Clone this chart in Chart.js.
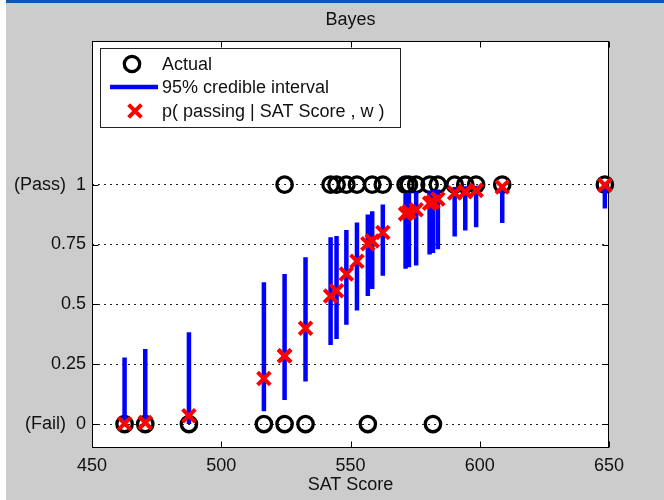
<!DOCTYPE html>
<html>
<head>
<meta charset="utf-8">
<script src="https://cdn.jsdelivr.net/npm/chart.js@4/dist/chart.umd.min.js"></script>
<style>
  body { margin: 0; background: #fff; }
  #frame { position: absolute; left: 6px; top: 0; width: 658px; height: 500px; background: #cccccc; border-top: 3px solid #0a57b6; box-sizing: border-box; }
  canvas { position: absolute; left: 0; top: 0; }
</style>
</head>
<body>
<div id="frame"></div>
<canvas id="chart" width="664" height="500"></canvas>
<script>
// one entry per student, sorted by SAT score
const scores  = [462.6, 470.6, 487.5, 516.5, 524.5, 524.5, 532.6, 542.3, 544.6, 548.4, 552.5, 556.7, 558.4,
                 562.5, 571.3, 572.6, 575.4, 580.6, 581.9, 583.8, 590.3, 594.4, 598.6, 608.7, 648.4];
const actual  = [0, 0, 0, 0, 0, 1, 0, 1, 1, 1, 1, 0, 1,
                 1, 1, 1, 1, 1, 0, 1, 1, 1, 1, 1, 1];
const pPass   = [0.002, 0.006, 0.035, 0.19, 0.285, 0.285, 0.40, 0.535, 0.557, 0.627, 0.68, 0.753, 0.765,
                 0.80, 0.878, 0.887, 0.895, 0.922, 0.928, 0.94, 0.965, 0.97, 0.976, 0.99, 0.998];
const ciLow   = [0.0, 0.0, 0.0, 0.053, 0.10, 0.10, 0.178, 0.33, 0.355, 0.415, 0.474, 0.535, 0.564,
                 0.619, 0.649, 0.655, 0.662, 0.708, 0.714, 0.73, 0.783, 0.808, 0.822, 0.84, 0.90];
const ciHigh  = [0.278, 0.313, 0.383, 0.592, 0.627, 0.627, 0.697, 0.78, 0.786, 0.811, 0.842, 0.875, 0.889,
                 0.917, 0.963, 0.967, 0.97, 0.975, 0.978, 0.98, 0.99, 0.993, 0.995, 0.999, 1.0];

const xTicks = [450, 500, 550, 600, 650];
const yTicks = [0, 0.25, 0.5, 0.75, 1];
const yTickLabels = ['(Fail)  0', '0.25', '0.5', '0.75', '(Pass)  1'];
const legendLabels = ['Actual', '95% credible interval', 'p( passing | SAT Score , w )'];

const FONT = { family: "'Liberation Sans', Arial, sans-serif", size: 18 };
const TEXT = '#111';

// interval segments, broken apart with null points
const ciPoints = [];
scores.forEach((s, i) => {
  ciPoints.push({ x: s, y: ciLow[i] }, { x: s, y: ciHigh[i] }, { x: s, y: null });
});

const circleStyle = { pointStyle: 'circle', radius: 7.7, borderWidth: 3.3, rotation: 0 };
const crossStyle = { pointStyle: 'crossRot', radius: 9, borderWidth: 4, rotation: 0 };

// white plot box, MATLAB-like frame and inward ticks, legend inside the axes
const axesBox = {
  id: 'axesBox',
  beforeDraw(chart) {
    const a = chart.chartArea, ctx = chart.ctx;
    ctx.save();
    ctx.fillStyle = '#fff';
    ctx.fillRect(a.left, a.top, a.right - a.left, a.bottom - a.top);
    ctx.restore();
  },
  beforeDatasetsDraw(chart) {
    const a = chart.chartArea, ctx = chart.ctx;
    const x = chart.scales.x, y = chart.scales.y;
    const L = Math.round(a.left) + 0.5, R = Math.round(a.right) - 0.5;
    const T = Math.round(a.top) + 0.5, B = Math.round(a.bottom) - 0.5;
    ctx.save();
    ctx.strokeStyle = '#000';
    ctx.lineWidth = 1;
    ctx.strokeRect(L, T, R - L, B - T);
    ctx.beginPath();
    xTicks.forEach(v => {
      const px = Math.round(x.getPixelForValue(v)) + 0.5;
      ctx.moveTo(px, B); ctx.lineTo(px, B - 6);
      ctx.moveTo(px, T); ctx.lineTo(px, T + 6);
    });
    yTicks.forEach(v => {
      const py = Math.round(y.getPixelForValue(v)) + 0.5;
      ctx.moveTo(L, py); ctx.lineTo(L + 6, py);
      ctx.moveTo(R, py); ctx.lineTo(R - 6, py);
    });
    ctx.stroke();
    ctx.restore();
  },
  afterDraw(chart) {
    const a = chart.chartArea, ctx = chart.ctx;
    const left = Math.round(a.left) + 8, top = Math.round(a.top) + 7;
    ctx.save();
    ctx.fillStyle = '#fff';
    ctx.strokeStyle = '#222';
    ctx.lineWidth = 1;
    ctx.fillRect(left, top, 300, 79);
    ctx.strokeRect(left + 0.5, top + 0.5, 300, 79);

    const rows = [top + 16, top + 39, top + 63];
    ctx.strokeStyle = '#000';
    ctx.lineWidth = circleStyle.borderWidth;
    Chart.helpers.drawPoint(ctx, circleStyle, left + 32, rows[0]);
    ctx.beginPath();
    ctx.strokeStyle = '#0000ff';
    ctx.lineWidth = 4.5;
    ctx.moveTo(left + 10, rows[1]);
    ctx.lineTo(left + 58, rows[1]);
    ctx.stroke();
    ctx.strokeStyle = '#ff0000';
    ctx.lineWidth = crossStyle.borderWidth;
    Chart.helpers.drawPoint(ctx, crossStyle, left + 35, rows[2]);

    ctx.fillStyle = TEXT;
    ctx.font = FONT.size + 'px ' + FONT.family;
    ctx.textBaseline = 'middle';
    ctx.textAlign = 'left';
    legendLabels.forEach((t, i) => ctx.fillText(t, left + 62, rows[i] + 1));
    ctx.restore();
  }
};

new Chart(document.getElementById('chart'), {
  type: 'scatter',
  data: {
    datasets: [
      {
        label: legendLabels[2],
        data: scores.map((s, i) => ({ x: s, y: pPass[i] })),
        pointStyle: 'crossRot',
        pointRadius: crossStyle.radius,
        pointBorderWidth: crossStyle.borderWidth,
        pointBorderColor: '#ff0000',
        pointBackgroundColor: '#ff0000',
        clip: false,
        order: 1
      },
      {
        label: legendLabels[1],
        data: ciPoints,
        showLine: true,
        spanGaps: false,
        pointRadius: 0,
        borderColor: '#0000ff',
        borderWidth: 4.5,
        borderCapStyle: 'butt',
        order: 2
      },
      {
        label: legendLabels[0],
        data: scores.map((s, i) => ({ x: s, y: actual[i] })),
        pointStyle: 'circle',
        pointRadius: circleStyle.radius,
        pointBorderWidth: circleStyle.borderWidth,
        pointBorderColor: '#000',
        pointBackgroundColor: 'rgba(0,0,0,0)',
        clip: false,
        order: 3
      }
    ]
  },
  options: {
    responsive: false,
    animation: false,
    devicePixelRatio: 1,
    layout: { padding: { left: 0, right: 55, top: 0, bottom: 0 } },
    plugins: {
      legend: { display: false },
      tooltip: { enabled: false },
      title: { display: false }
    },
    scales: {
      x: {
        type: 'linear',
        position: 'bottom',
        min: 450,
        max: 650,
        afterBuildTicks: s => { s.ticks = xTicks.map(v => ({ value: v })); },
        afterFit: s => { s.height = 52; },
        grid: { display: false, drawTicks: false },
        border: { display: false },
        ticks: { color: TEXT, font: FONT, padding: 7, maxRotation: 0 },
        title: { display: true, text: 'SAT Score', color: TEXT, font: FONT, padding: { top: 0, bottom: 4 } }
      },
      x2: {
        type: 'linear',
        axis: 'x',
        position: 'top',
        min: 450,
        max: 650,
        afterFit: s => { s.height = 41; },
        grid: { display: false, drawTicks: false },
        border: { display: false },
        ticks: { display: false },
        title: { display: true, text: 'Bayes', color: TEXT, font: FONT, padding: { top: 9, bottom: 0 } }
      },
      y: {
        type: 'linear',
        min: -0.1,
        max: 1.6,
        afterBuildTicks: s => { s.ticks = yTicks.map(v => ({ value: v })); },
        afterFit: s => { s.width = 92; },
        grid: { color: '#222', lineWidth: 1, drawTicks: false },
        border: { display: false, dash: [2, 4] },
        ticks: {
          color: TEXT,
          font: FONT,
          padding: 6,
          callback: (v, i) => yTickLabels[i]
        }
      }
    }
  },
  plugins: [axesBox]
});
</script>
</body>
</html>
